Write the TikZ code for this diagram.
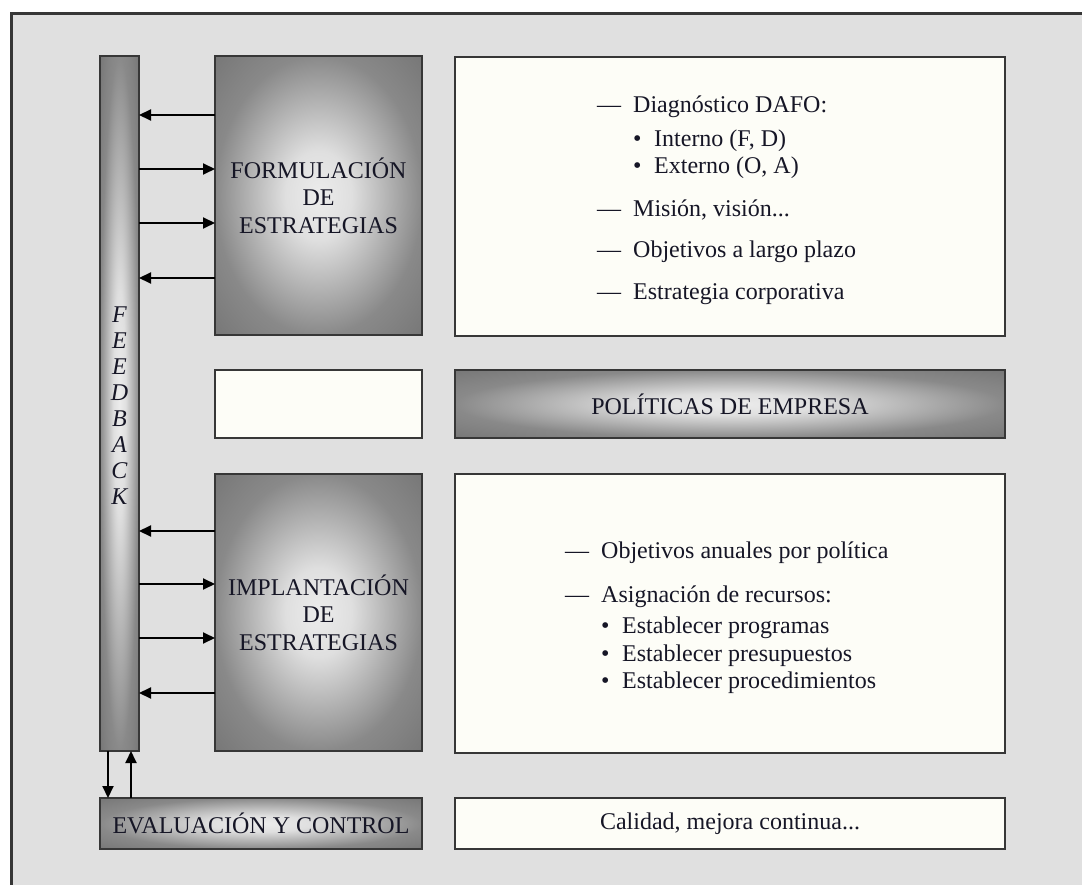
\documentclass[tikz,border=0pt]{standalone}
\usepackage{fontspec}
\setmainfont{Liberation Serif}
\usepackage{tikz}
\usetikzlibrary{arrows.meta}

\definecolor{fondo}{RGB}{224,224,224}
\definecolor{marco}{RGB}{55,55,55}
\definecolor{papel}{RGB}{253,253,247}
\definecolor{texto}{RGB}{22,22,38}
\definecolor{claro}{RGB}{236,236,236}
\definecolor{medio}{RGB}{150,150,150}
\definecolor{oscuro}{RGB}{118,118,118}

\pgfdeclareradialshading{suave}{\pgfpoint{0bp}{0bp}}{color(0bp)=(claro); color(8bp)=(claro!85!medio); color(25bp)=(medio!60!oscuro); color(36bp)=(oscuro); color(50bp)=(oscuro)}

\newcommand{\raya}{\makebox[36pt][l]{---}}
\newcommand{\punto}{\hspace*{36pt}\makebox[21pt][l]{\textbullet}}

\begin{document}
\begin{tikzpicture}[x=1pt, y=-1pt,
	every node/.style={text=texto, font=\fontsize{24}{27.5}\selectfont},
	caja/.style={draw=marco, line width=2.4pt, anchor=north west, inner sep=0pt, outer sep=0pt, align=center},
	gris/.style={caja, shading=suave},
	blanca/.style={caja, fill=papel},
	flecha/.style={line width=2pt, -{Triangle[length=12pt,width=11pt]}}]

		% fondo y marco
		\fill[white] (0,0) rectangle (1082,885);
		\useasboundingbox (0,0) rectangle (1082,885);
		\draw[draw=marco, line width=3pt, fill=fondo] (11,14) rectangle (1200,1000);

		\node[gris, minimum width=39pt, minimum height=695pt] (bar) at (100,56) {};
		\node[font=\fontsize{24}{26}\selectfont\itshape, align=center] (fb) at (119.5,406) {F\\E\\E\\D\\B\\A\\C\\K};

		\node[gris, minimum width=207pt, minimum height=279pt] (form) at (215,56) {FORMULACIÓN\\DE\\ESTRATEGIAS};
		\node[blanca, minimum width=550pt, minimum height=279pt] (dafo) at (455,57) {};

		\node[blanca, minimum width=207pt, minimum height=68pt] (hueco) at (215,370) {};
		\node[gris, minimum width=550pt, minimum height=68pt] (pol) at (455,370) {POLÍTICAS DE EMPRESA};

		\node[gris, minimum width=207pt, minimum height=277pt] (impl) at (215,474) {IMPLANTACIÓN\\DE\\ESTRATEGIAS};
		\node[blanca, minimum width=550pt, minimum height=279pt] (rec) at (455,474) {};

		\node[gris, minimum width=322pt, minimum height=51pt] (eval) at (100,798) {EVALUACIÓN Y CONTROL};
		\node[blanca, minimum width=550pt, minimum height=51pt] (cal) at (455,798) {Calidad, mejora continua...};

		% listas
		\node[anchor=base west, inner sep=0pt] (listadafo) at (597,113) {\parbox[t]{400pt}{\fontsize{24}{27}\selectfont
			\raya Diagnóstico DAFO:\\[7pt]
			\punto Interno (F, D)\\
			\punto Externo (O, A)\\[16pt]
			\raya Misión, visión...\\[14pt]
			\raya Objetivos a largo plazo\\[15pt]
			\raya Estrategia corporativa}};
		\node[anchor=base west, inner sep=0pt] (listarec) at (565,558) {\parbox[t]{420pt}{\fontsize{24}{28}\selectfont
			\raya Objetivos anuales por política\\[16pt]
			\raya Asignación de recursos:\\[3pt]
			\punto Establecer programas\\
			\punto Establecer presupuestos\\[-1pt]
			\punto Establecer procedimientos}};

		% feedback
		\draw[flecha] (form.west |- 0,115) -- (bar.east |- 0,115);
		\draw[flecha] (bar.east |- 0,169) -- (form.west |- 0,169);
		\draw[flecha] (bar.east |- 0,223) -- (form.west |- 0,223);
		\draw[flecha] (form.west |- 0,278) -- (bar.east |- 0,278);

		\draw[flecha] (impl.west |- 0,531) -- (bar.east |- 0,531);
		\draw[flecha] (bar.east |- 0,584) -- (impl.west |- 0,584);
		\draw[flecha] (bar.east |- 0,638) -- (impl.west |- 0,638);
		\draw[flecha] (impl.west |- 0,693) -- (bar.east |- 0,693);

		\draw[flecha] (bar.south -| 108,0) -- (eval.north -| 108,0);
		\draw[flecha] (eval.north -| 131,0) -- (bar.south -| 131,0);

\end{tikzpicture}
\end{document}
